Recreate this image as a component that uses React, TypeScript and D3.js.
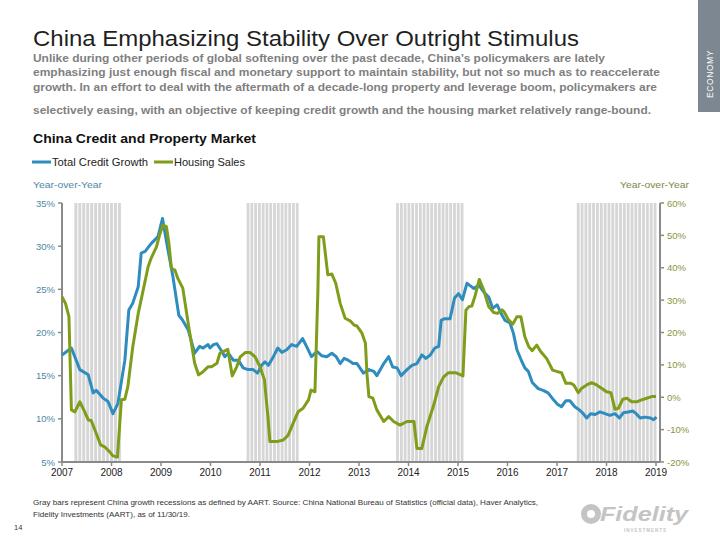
import React from 'react';
import * as d3 from 'd3';

// [axis year, % yoy]
const creditGrowth: [number, number][] = [
  [2007.0, 17.4], [2007.19, 18.2], [2007.36, 15.7], [2007.53, 15.1], [2007.63, 13.0], [2007.69, 13.3],
  [2007.83, 12.4], [2007.93, 12.0], [2008.03, 10.6], [2008.13, 11.8], [2008.27, 16.8], [2008.35, 22.6],
  [2008.43, 23.4], [2008.54, 25.3], [2008.6, 29.2], [2008.68, 29.4], [2008.8, 30.3], [2008.94, 31.1],
  [2009.03, 33.2], [2009.07, 31.9], [2009.14, 29.6], [2009.24, 26.5], [2009.36, 22.0], [2009.44, 21.4],
  [2009.55, 20.3], [2009.68, 17.6], [2009.78, 18.4], [2009.85, 18.2], [2009.95, 18.6], [2009.99, 18.2],
  [2010.06, 18.6], [2010.13, 18.7], [2010.23, 17.8], [2010.29, 17.2], [2010.36, 17.6], [2010.46, 16.8],
  [2010.56, 16.8], [2010.66, 15.9], [2010.76, 15.7], [2010.86, 15.7], [2010.95, 15.3], [2011.03, 16.2],
  [2011.1, 16.6], [2011.17, 16.2], [2011.27, 17.2], [2011.36, 18.2], [2011.44, 17.7], [2011.54, 18.0],
  [2011.64, 18.6], [2011.74, 18.4], [2011.86, 19.3], [2011.94, 18.4], [2012.04, 17.2], [2012.15, 17.8],
  [2012.25, 17.3], [2012.35, 17.2], [2012.45, 17.6], [2012.54, 17.2], [2012.62, 16.4], [2012.7, 17.0],
  [2012.78, 16.8], [2012.88, 16.4], [2012.96, 16.4], [2013.09, 15.3], [2013.2, 15.7], [2013.3, 15.5],
  [2013.36, 15.0], [2013.5, 16.4], [2013.6, 17.2], [2013.68, 16.0], [2013.77, 15.9], [2013.85, 15.0],
  [2013.97, 15.7], [2014.07, 16.2], [2014.17, 16.4], [2014.27, 17.4], [2014.35, 17.0], [2014.44, 17.4],
  [2014.53, 18.2], [2014.61, 18.4], [2014.66, 21.4], [2014.73, 21.6], [2014.84, 21.6], [2014.93, 24.0],
  [2015.01, 24.5], [2015.09, 23.8], [2015.18, 25.7], [2015.25, 25.4], [2015.32, 25.1], [2015.42, 25.5],
  [2015.52, 24.7], [2015.62, 24.1], [2015.7, 22.8], [2015.79, 23.2], [2015.89, 22.0], [2015.95, 21.4],
  [2016.05, 21.1], [2016.12, 19.9], [2016.19, 18.0], [2016.27, 16.9], [2016.35, 15.9], [2016.42, 15.5],
  [2016.5, 14.2], [2016.62, 13.5], [2016.72, 13.3], [2016.82, 13.0], [2016.93, 12.2], [2017.01, 11.7],
  [2017.09, 11.4], [2017.18, 12.1], [2017.26, 12.1], [2017.36, 11.4], [2017.46, 11.0], [2017.53, 10.6],
  [2017.6, 10.1], [2017.68, 10.6], [2017.77, 10.5], [2017.87, 10.8], [2017.97, 10.6], [2018.07, 10.4],
  [2018.17, 10.6], [2018.26, 10.1], [2018.34, 10.7], [2018.44, 10.8], [2018.53, 10.9], [2018.6, 10.6],
  [2018.68, 10.1], [2018.78, 10.2], [2018.89, 10.1], [2018.95, 9.9], [2019.01, 10.2],
];

const housingSales: [number, number][] = [
  [2007.0, 31.1], [2007.07, 29.0], [2007.14, 24.9], [2007.19, -3.9], [2007.26, -4.5], [2007.36, -1.4],
  [2007.46, -4.5], [2007.53, -7.0], [2007.59, -7.2], [2007.69, -11.1], [2007.78, -14.7], [2007.86, -15.3],
  [2007.96, -16.8], [2008.03, -18.1], [2008.12, -18.5], [2008.2, -0.8], [2008.27, -0.6], [2008.33, 3.3],
  [2008.43, 15.6], [2008.54, 25.9], [2008.64, 33.1], [2008.74, 40.3], [2008.8, 42.9], [2008.91, 46.5],
  [2008.97, 50.1], [2009.04, 53.2], [2009.11, 52.7], [2009.16, 47.5], [2009.21, 39.8], [2009.28, 39.3],
  [2009.34, 36.7], [2009.44, 33.7], [2009.55, 22.8], [2009.68, 10.5], [2009.76, 6.9], [2009.85, 7.9],
  [2009.95, 9.4], [2010.02, 9.4], [2010.13, 10.5], [2010.19, 13.6], [2010.26, 14.1], [2010.35, 14.8],
  [2010.44, 6.6], [2010.53, 9.4], [2010.6, 12.5], [2010.7, 13.8], [2010.8, 13.8], [2010.9, 12.5],
  [2011.0, 9.4], [2011.09, 5.3], [2011.16, -6.0], [2011.2, -13.7], [2011.34, -13.7], [2011.47, -13.2],
  [2011.57, -11.7], [2011.67, -8.0], [2011.77, -4.5], [2011.87, -3.4], [2011.98, -0.8], [2012.03, 2.2],
  [2012.11, 1.7], [2012.17, 33.1], [2012.19, 49.6], [2012.28, 49.6], [2012.37, 37.8], [2012.45, 38.1],
  [2012.53, 35.2], [2012.62, 29.0], [2012.72, 24.4], [2012.82, 23.6], [2012.9, 22.3], [2012.96, 22.0],
  [2013.06, 19.8], [2013.13, 16.7], [2013.16, 7.4], [2013.2, 0.2], [2013.28, -0.3], [2013.36, -3.9],
  [2013.5, -7.5], [2013.6, -6.0], [2013.7, -7.5], [2013.83, -8.6], [2013.97, -7.5], [2014.11, -7.5],
  [2014.17, -15.8], [2014.27, -15.8], [2014.37, -9.1], [2014.51, -2.4], [2014.61, 3.3], [2014.71, 6.3],
  [2014.81, 7.6], [2014.95, 7.6], [2015.1, 6.6], [2015.16, 26.9], [2015.22, 28.0], [2015.28, 28.2],
  [2015.35, 31.6], [2015.43, 36.4], [2015.52, 33.1], [2015.62, 28.0], [2015.72, 26.2], [2015.8, 25.9],
  [2015.89, 27.0], [2015.93, 26.4], [2016.02, 23.9], [2016.11, 22.6], [2016.19, 24.9], [2016.27, 24.9],
  [2016.35, 18.7], [2016.43, 15.6], [2016.5, 14.4], [2016.59, 16.1], [2016.67, 14.1], [2016.79, 12.0],
  [2016.91, 8.4], [2017.01, 7.9], [2017.09, 7.6], [2017.18, 4.3], [2017.28, 4.3], [2017.34, 3.8],
  [2017.43, 1.4], [2017.5, 2.8], [2017.6, 3.8], [2017.7, 4.5], [2017.8, 3.8], [2017.9, 2.8],
  [2018.0, 1.7], [2018.09, 1.4], [2018.17, -3.7], [2018.24, -3.4], [2018.33, -0.6], [2018.41, -0.3],
  [2018.51, -1.4], [2018.61, -1.4], [2018.71, -0.8], [2018.81, -0.3], [2018.91, 0.2], [2019.0, 0.2],
];

// China growth recessions (axis years, number of monthly bars)
const recessionStart = [2007.25, 2010.73, 2013.75, 2017.4];
const recessionEnd = [2008.21, 2011.8, 2015.13, 2019.03];
const recessionMonths = [12, 14, 18, 21];

const yearLabels = ['2007', '2008', '2009', '2010', '2011', '2012', '2013', '2014', '2015', '2016', '2017', '2018', '2019'];
const leftTicks = [5, 10, 15, 20, 25, 30, 35];
const rightTicks = [-20, -10, 0, 10, 20, 30, 40, 50, 60];

const seriesNames = ['Total Credit Growth', 'Housing Sales'];

const title = 'China Emphasizing Stability Over Outright Stimulus';
const subtitleLines = [
  'Unlike during other periods of global softening over the past decade, China\u2019s policymakers are lately',
  'emphasizing just enough fiscal and monetary support to maintain stability, but not so much as to reaccelerate',
  'growth. In an effort to deal with the aftermath of a decade-long property and leverage boom, policymakers are',
  'selectively easing, with an objective of keeping credit growth and the housing market relatively range-bound.',
];
const chartTitle = 'China Credit and Property Market';
const footnoteLines = [
  'Gray bars represent China growth recessions as defined by AART. Source: China National Bureau of Statistics (official data), Haver Analytics,',
  'Fidelity Investments (AART), as of 11/30/19.',
];

const BLUE = '#2f8cbf';
const GREEN = '#7f9d1b';
const AXIS = '#8a8a8a';
const FONT = '"Liberation Sans", Arial, sans-serif';

export default function App() {
  const W = 720, H = 540;
  const left = 62, right = 656, top = 203, bottom = 462;
  const axisRight = 660;
  const x = d3.scaleLinear().domain([2007, 2019]).range([left, right]);
  const yL = d3.scaleLinear().domain([5, 35]).range([bottom, top]);
  const yR = d3.scaleLinear().domain([-20, 60]).range([bottom, top]);
  const lineL = d3.line<[number, number]>().x(d => x(d[0])).y(d => yL(d[1]));
  const lineR = d3.line<[number, number]>().x(d => x(d[0])).y(d => yR(d[1]));

  const subWidths = [572, 627, 624, 618];
  const subY = [62, 76, 91, 114];

  const stripes: { x: number; w: number }[] = [];
  recessionStart.forEach((s, i) => {
    const x0 = x(s), x1 = x(recessionEnd[i]);
    const pitch = (x1 - x0) / recessionMonths[i];
    for (let k = 0; k < recessionMonths[i]; k++) {
      stripes.push({ x: x0 + k * pitch, w: pitch - 1 });
    }
  });

  return (
    <svg width={W} height={H} style={{ position: 'absolute', left: 0, top: 0, background: '#fff' }} fontFamily={FONT}>
      <rect x={0} y={0} width={W} height={H} fill="#fff" />
      {/* side tab */}
      <rect x={698} y={0} width={22} height={112} fill="#7d8791" />
      <text transform="translate(713,74) rotate(-90)" fill="#fff" fontSize={8.5} letterSpacing={0.6} textAnchor="middle">ECONOMY</text>

      <text x={33} y={46} fontSize={22} fill="#1f1f1f" textLength={546} lengthAdjust="spacingAndGlyphs">{title}</text>
      {subtitleLines.map((t, i) => (
        <text key={i} x={33} y={subY[i]} fontSize={11.5} fontWeight="bold" fill="#7f7f7f" textLength={subWidths[i]} lengthAdjust="spacingAndGlyphs">{t}</text>
      ))}

      <text x={33} y={143} fontSize={13} fontWeight="bold" fill="#111" textLength={223} lengthAdjust="spacingAndGlyphs">{chartTitle}</text>

      {/* legend */}
      <line x1={32} x2={51} y1={162} y2={162} stroke={BLUE} strokeWidth={3} />
      <text x={52} y={166} fontSize={11} fill="#222" textLength={96} lengthAdjust="spacingAndGlyphs">{seriesNames[0]}</text>
      <line x1={154} x2={173} y1={162} y2={162} stroke={GREEN} strokeWidth={3} />
      <text x={174} y={166} fontSize={11} fill="#222" textLength={71} lengthAdjust="spacingAndGlyphs">{seriesNames[1]}</text>

      <text x={33} y={188} fontSize={9.5} fill="#4d87a3" textLength={69} lengthAdjust="spacingAndGlyphs">Year-over-Year</text>
      <text x={689} y={188} fontSize={9.5} fill="#7d8747" textAnchor="end" textLength={69} lengthAdjust="spacingAndGlyphs">Year-over-Year</text>

      {/* recession bars */}
      {stripes.map((s, i) => (
        <rect key={i} x={s.x} y={top} width={s.w} height={bottom - top} fill="#d6d6d6" />
      ))}

      {/* axes */}
      <line x1={left} x2={left} y1={top} y2={bottom} stroke={AXIS} strokeWidth={2} />
      <line x1={axisRight} x2={axisRight} y1={top} y2={bottom} stroke={AXIS} strokeWidth={2} />
      <line x1={left} x2={axisRight} y1={bottom} y2={bottom} stroke={AXIS} strokeWidth={2} />
      {leftTicks.map(t => (
        <g key={t}>
          <line x1={left - 4} x2={left} y1={yL(t)} y2={yL(t)} stroke={AXIS} strokeWidth={1.5} />
          <text x={55} y={yL(t) + 3.5} fontSize={9.5} fill="#4d87a3" textAnchor="end">{`${t}%`}</text>
        </g>
      ))}
      {rightTicks.map(t => (
        <g key={t}>
          <line x1={axisRight} x2={axisRight + 4} y1={yR(t)} y2={yR(t)} stroke={AXIS} strokeWidth={1.5} />
          <text x={667} y={yR(t) + 3.5} fontSize={9.5} fill="#8a9440">{`${t}%`}</text>
        </g>
      ))}
      {yearLabels.map(l => (
        <g key={l}>
          <line x1={x(+l)} x2={x(+l)} y1={bottom} y2={bottom + 4} stroke={AXIS} strokeWidth={1.5} />
          <text x={x(+l)} y={476} fontSize={10} fill="#222" textAnchor="middle">{l}</text>
        </g>
      ))}

      {/* series */}
      <path d={lineL(creditGrowth) || ''} fill="none" stroke={BLUE} strokeWidth={3} strokeLinejoin="round" />
      <path d={lineR(housingSales) || ''} fill="none" stroke={GREEN} strokeWidth={3} strokeLinejoin="round" />

      {/* footnote */}
      <text x={33} y={505} fontSize={7.5} fill="#333" textLength={505} lengthAdjust="spacingAndGlyphs">{footnoteLines[0]}</text>
      <text x={33} y={517} fontSize={7.5} fill="#333" textLength={157} lengthAdjust="spacingAndGlyphs">{footnoteLines[1]}</text>
      <text x={14} y={530} fontSize={7.5} fill="#333">14</text>

      {/* logo */}
      <circle cx={591} cy={514} r={10} fill="#c4c4c4" />
      <circle cx={591} cy={514} r={4} fill="#fff" />
      <text x={600} y={521} fontSize={20} fontWeight="bold" fontStyle="italic" fill="#c4c4c4" textLength={88} lengthAdjust="spacingAndGlyphs">Fidelity</text>
      <text x={624} y={532} fontSize={4.5} fontWeight="bold" fill="#c4c4c4" letterSpacing={1}>INVESTMENTS</text>
    </svg>
  );
}
